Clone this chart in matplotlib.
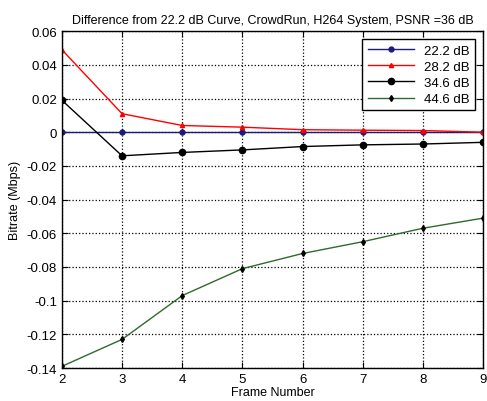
import numpy as np
import matplotlib
matplotlib.use("Agg")
import matplotlib.pyplot as plt

plt.rcParams['font.family'] = ['Liberation Sans', 'DejaVu Sans']

frames = [2, 3, 4, 5, 6, 7, 8, 9]
labels = ['22.2 dB', '28.2 dB', '34.6 dB', '44.6 dB']
v222 = [0, 0, 0, 0, 0, 0, 0, 0]
v282 = [0.049, 0.011, 0.004, 0.003, 0.0015, 0.0012, 0.001, 0.0]
v346 = [0.019, -0.014, -0.012, -0.0105, -0.0085, -0.0075, -0.007, -0.006]
v446 = [-0.139, -0.123, -0.097, -0.081, -0.072, -0.065, -0.057, -0.051]

fig = plt.figure(figsize=(4.87, 4.02), dpi=100)
ax = fig.add_axes([0.127, 0.082, 0.865, 0.838])

ax.plot(frames, v222, color='#1a1a7a', marker='o', ms=3.5, lw=1, label=labels[0])
ax.plot(frames, v282, color='red', marker='^', ms=3, lw=1, label=labels[1])
ax.plot(frames, v346, color='black', marker='o', ms=4.5, lw=1, label=labels[2])
ax.plot(frames, v446, color='#2e6b2e', marker='d', ms=3, lw=1,
        mfc='black', mec='black', label=labels[3])

ax.set_xlim(2, 9)
ax.set_ylim(-0.14, 0.06)
ax.set_xticks(frames)
ax.set_yticks(np.arange(-0.14, 0.061, 0.02))
ax.set_yticklabels(['-0.14', '-0.12', '-0.1', '-0.08', '-0.06', '-0.04',
                    '-0.02', '0', '0.02', '0.04', '0.06'])
ax.grid(True, color='black', linestyle=':', linewidth=0.9)
ax.tick_params(direction='in', labelsize=9.5, top=True, right=True, length=4)
for s in ax.spines.values():
    s.set_linewidth(1)

ax.set_title('Difference from 22.2 dB Curve, CrowdRun, H264 System, PSNR =36 dB',
             fontsize=9, pad=6)
ax.set_xlabel('Frame Number', fontsize=9, labelpad=1)
ax.set_ylabel('Bitrate (Mbps)', fontsize=9)

leg = ax.legend(loc='upper right', fontsize=9.5, fancybox=False, framealpha=1,
                edgecolor='black', borderaxespad=0.6, handlelength=3.5,
                labelspacing=0.3)
leg.get_frame().set_linewidth(1)

fig.savefig('out.png', dpi=100)
